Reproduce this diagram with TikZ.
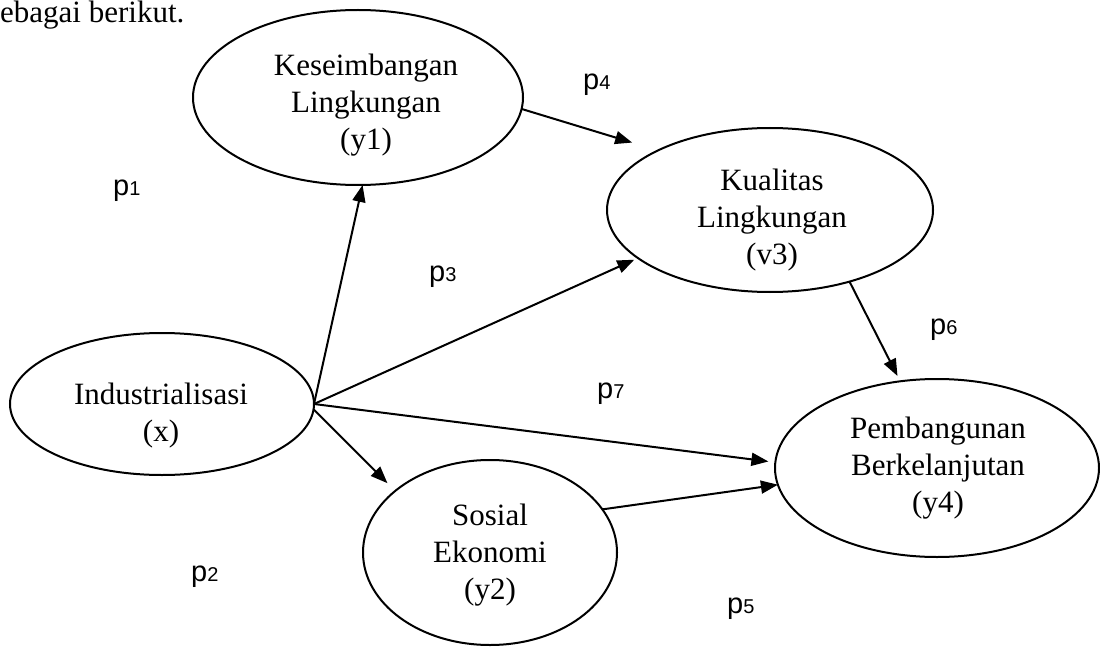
\documentclass[tikz,border=0pt]{standalone}
\usepackage{fontspec}
\setmainfont{Liberation Serif}
\newfontfamily\psans{Liberation Sans}
\usetikzlibrary{shapes.geometric,arrows.meta}

% path coefficient label: "p" with a small digit on the baseline
\newcommand{\pcoef}[1]{p{\fontsize{20}{20}\selectfont #1}}

\tikzset{
  varell/.style={ellipse, draw, line width=2pt, inner sep=0pt, outer sep=0pt},
  vartext/.style={align=center, inner sep=0pt, font=\fontsize{31}{37}\selectfont},
  pathlabel/.style={anchor=base west, inner sep=0pt, font=\psans\fontsize{29}{29}\selectfont},
  link/.style={line width=2pt, -{Triangle[length=17pt,width=13pt]}},
}

\begin{document}
\begin{tikzpicture}[x=1pt,y=-1pt]
\useasboundingbox (0,0) rectangle (1100,647);

% lead-in sentence fragment
\node[anchor=base west, inner sep=0pt, font=\fontsize{31}{37}\selectfont] (intro) at (0,23) {ebagai berikut.};

% latent variables
\node[varell, minimum width=330pt, minimum height=175pt] (y1) at (358,97.5) {};
\node[varell, minimum width=326pt, minimum height=164pt] (y3) at (770,210) {};
\node[varell, minimum width=304pt, minimum height=142pt] (x)  at (162,404) {};
\node[varell, minimum width=254pt, minimum height=185pt] (y2) at (490,552.5) {};
\node[varell, minimum width=324pt, minimum height=178pt] (y4) at (937,468) {};

\node[vartext] (y1t) at (366,105) {Keseimbangan\\Lingkungan\\(y1)};
\node[vartext] (y3t) at (772,220) {Kualitas\\Lingkungan\\(v3)};
\node[vartext] (xt)  at (161,416) {Industrialisasi\\(x)};
\node[vartext] (y2t) at (490,555) {Sosial\\Ekonomi\\(y2)};
\node[vartext] (y4t) at (938,468) {Pembangunan\\Berkelanjutan\\(y4)};

% causal paths
\draw[link] (x.east) -- (y1.-87);
\draw[link, shorten >=27pt] (y1.-4) -- (y3.152);
\draw[link, shorten >=4pt] (x.east) -- (y3.200);
\draw[link, shorten >=7pt] (x.east) -- (y4.178);
\draw[link, shorten >=11pt] (x.-2) -- (y2.147);
\draw[link] (y2.21) -- (y4.186);
\draw[link, shorten >=6pt] (y3.-42) -- (y4.113);

% path coefficients
\node[pathlabel] (p1) at (113,196) {\pcoef{1}};
\node[pathlabel] (p2) at (191,581) {\pcoef{2}};
\node[pathlabel] (p3) at (429,281) {\pcoef{3}};
\node[pathlabel] (p4) at (583,90)  {\pcoef{4}};
\node[pathlabel] (p5) at (727,613) {\pcoef{5}};
\node[pathlabel] (p6) at (930,334) {\pcoef{6}};
\node[pathlabel] (p7) at (597,398) {\pcoef{7}};
\end{tikzpicture}
\end{document}
